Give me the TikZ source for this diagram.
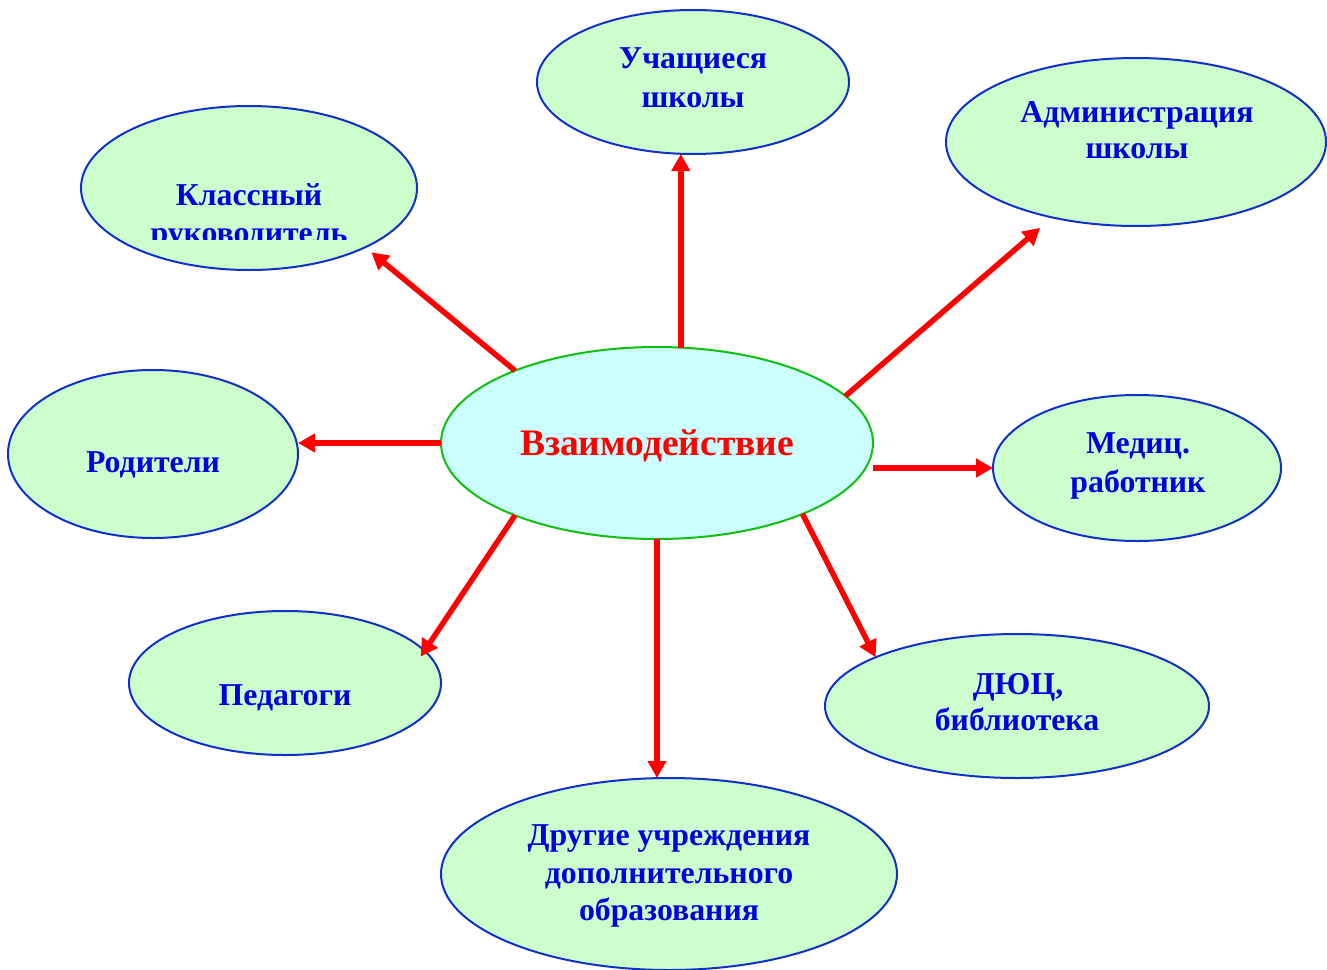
\documentclass[tikz,border=0pt]{standalone}
\usepackage{fontspec}
\setmainfont{Liberation Serif}
\usetikzlibrary{arrows.meta,shapes.geometric}
\definecolor{leaffill}{HTML}{CCFFCC}
\definecolor{leafline}{HTML}{1030C8}
\definecolor{hubfill}{HTML}{CCFFFF}
\definecolor{hubline}{HTML}{10C010}
\definecolor{labelblue}{HTML}{0000E0}
\definecolor{arrowred}{HTML}{FF0000}
\begin{document}
\begin{tikzpicture}[x=1pt,y=-1pt,
  leaf/.style={ellipse, draw=leafline, fill=leaffill, line width=2pt, inner sep=0pt, outer sep=0pt},
  hub/.style={ellipse, draw=hubline, fill=hubfill, line width=2pt, inner sep=0pt, outer sep=0pt},
  lbl/.style={anchor=base, inner sep=0pt, text=labelblue, font=\fontsize{31.8}{38}\selectfont\bfseries},
  hublbl/.style={anchor=base, inner sep=0pt, text=arrowred, font=\fontsize{37.5}{44}\selectfont\bfseries},
  link/.style={draw=arrowred, line width=5.5pt, -{Triangle[length=17pt,width=18pt]}}
]
\useasboundingbox (0,0) rectangle (1327,969);

% ellipses
\node[hub, minimum width=432pt, minimum height=192pt] (c) at (657,443) {};
\node[leaf, minimum width=312pt, minimum height=144pt] (uch) at (693,82) {};
\node[leaf, minimum width=380pt, minimum height=168pt] (adm) at (1136,142) {};
\node[leaf, minimum width=336pt, minimum height=164pt] (kl) at (249,188) {};
\node[leaf, minimum width=290pt, minimum height=168pt] (rod) at (153,454) {};
\node[leaf, minimum width=288pt, minimum height=146pt] (med) at (1137,468) {};
\node[leaf, minimum width=312pt, minimum height=144pt] (ped) at (285,683) {};
\node[leaf, minimum width=384pt, minimum height=144pt] (dyuc) at (1017,706) {};
\node[leaf, minimum width=456pt, minimum height=192pt] (dr) at (669,874) {};

% labels
\node[hublbl] (tc) at (657,455) {Взаимодействие};
\node[lbl] (tuch1) at (693,68) {Учащиеся};
\node[lbl] (tuch2) at (693,107) {школы};
\node[lbl] (tadm1) at (1137,122) {Администрация};
\node[lbl] (tadm2) at (1137,158) {школы};
\node[lbl] (tkl1) at (249,205) {Классный};
\begin{scope}
  \clip (80,0) rectangle (420,239);
  \node[lbl] (tkl2) at (249,243) {руководитель};
\end{scope}
\node[lbl] (trod) at (153,472) {Родители};
\node[lbl] (tmed1) at (1138,453) {Медиц.};
\node[lbl] (tmed2) at (1138,492) {работник};
\node[lbl] (tped) at (285,705) {Педагоги};
\node[lbl] (tdy1) at (1018,694) {ДЮЦ,};
\node[lbl] (tdy2) at (1017,730) {библиотека};
\node[lbl] (tdr1) at (669,845) {Другие учреждения};
\node[lbl] (tdr2) at (669,883) {дополнительного};
\node[lbl] (tdr3) at (669,920) {образования};

% connectors
\draw[link] (c.76) -- (c.76 |- uch.south);
\draw[link, shorten >=8pt] (c.153) -- (kl.333);
\draw[link, shorten >=16pt] (c.14) -- (adm.222);
\draw[link] (c.west) -- (c.west -| rod.east);
\draw[link] (c.east |- med.west) -- (med.west);
\draw[link, shorten >=-7pt] (c.207) -- (ped.13.6);
\draw[link] (c.334) -- (dyuc.161.5);
\draw[link] (c.south) -- (c.south |- dr.north);
\end{tikzpicture}
\end{document}
